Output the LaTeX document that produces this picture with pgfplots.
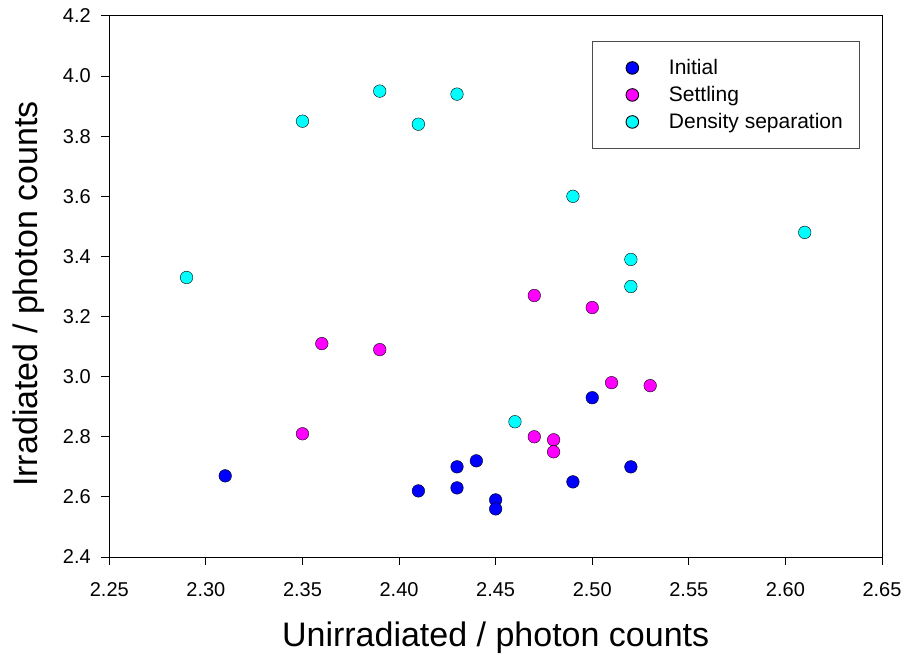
\documentclass[border=0pt]{standalone}
\usepackage{pgfplots}
\pgfplotsset{compat=1.18}
\usepackage{fontspec}
\setmainfont{Liberation Sans}
\definecolor{cInit}{RGB}{0,0,255}
\definecolor{cSett}{RGB}{255,0,255}
\definecolor{cDens}{RGB}{0,255,255}
\begin{document}
\begin{tikzpicture}
\useasboundingbox (-109.3pt,-107pt) rectangle (799.7pt,557pt);
\begin{axis}[
  at={(0pt,0pt)}, anchor=south west,
  scale only axis, width=772.7pt, height=541pt,
  xmin=2.25, xmax=2.65, ymin=2.4, ymax=4.2,
  xtick={2.25,2.30,...,2.65}, ytick={2.4,2.6,...,4.2},
  xticklabel style={yshift=-14pt, /pgf/number format/.cd, fixed, fixed zerofill, precision=2},
  yticklabel style={xshift=-7pt, /pgf/number format/.cd, fixed, fixed zerofill, precision=1},
  /pgf/number format/assume math mode=true,
  tick label style={font=\fontsize{20}{20}\selectfont},
  tick align=outside, tick pos=left,
  major tick length=8pt,
  axis line style={line width=1pt}, every tick/.style={line width=1pt, black},
  xlabel={Unirradiated / photon counts},
  ylabel={Irradiated / photon counts},
  label style={font=\fontsize{34}{34}\selectfont},
  xlabel style={at={(axis description cs:0.5,0)}, anchor=center, yshift=-80.7pt},
  ylabel style={at={(axis description cs:-0.1039,0.486)}, anchor=center},
  legend style={at={(1,1)}, anchor=north east, xshift=-22pt, yshift=-24.7pt,
    draw=black!70, line width=0.9pt, font=\fontsize{21}{21}\selectfont,
    inner xsep=16.7pt, inner ysep=13.3pt, row sep=0pt, column sep=0pt,
    nodes={inner sep=0pt}},
  legend cell align=left,
  legend image code/.code={\draw[#1] plot coordinates {(0pt,0pt)}; \path[draw=none] (-23.3pt,-13.5pt) rectangle (36.6pt,13.5pt);},
  every axis plot/.append style={only marks, mark=*, mark size=6.3pt, mark options={draw=black, line width=0.9pt}},
]
\addplot[mark options={fill=cInit}] coordinates {
 (2.31,2.67) (2.41,2.62) (2.43,2.70) (2.43,2.63) (2.44,2.72)
 (2.45,2.59) (2.45,2.56) (2.50,2.93) (2.49,2.65) (2.52,2.70)
};
\addlegendentry{Initial}
\addplot[mark options={fill=cSett}] coordinates {
 (2.47,3.27) (2.50,3.23) (2.51,2.98) (2.53,2.97) (2.47,2.80)
 (2.48,2.79) (2.48,2.75) (2.36,3.11) (2.39,3.09) (2.35,2.81)
};
\addlegendentry{Settling}
\addplot[mark options={fill=cDens}] coordinates {
 (2.29,3.33) (2.35,3.85) (2.39,3.95) (2.41,3.84) (2.43,3.94)
 (2.49,3.60) (2.61,3.48) (2.52,3.39) (2.52,3.30) (2.46,2.85)
};
\addlegendentry{Density separation}
\end{axis}
\end{tikzpicture}
\end{document}
